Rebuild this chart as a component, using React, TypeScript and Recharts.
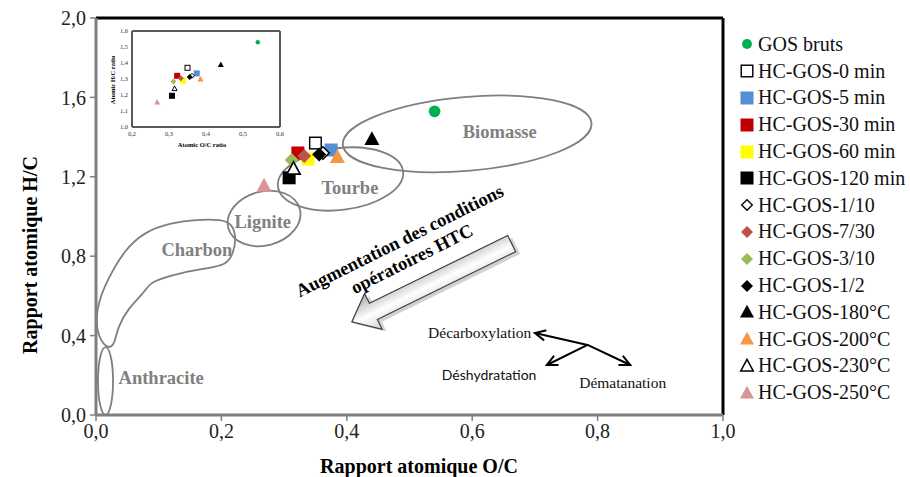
import React from 'react';
import {
  ScatterChart,
  Scatter,
  XAxis,
  YAxis,
  ReferenceArea,
  ReferenceLine,
  ReferenceDot,
} from 'recharts';

const SERIF = '"Liberation Serif", "Times New Roman", serif';

// --- samples (O/C, H/C) ---
const seriesNames = [
  'GOS bruts',
  'HC-GOS-0 min',
  'HC-GOS-5 min',
  'HC-GOS-30 min',
  'HC-GOS-60 min',
  'HC-GOS-120 min',
  'HC-GOS-1/10',
  'HC-GOS-7/30',
  'HC-GOS-3/10',
  'HC-GOS-1/2',
  'HC-GOS-180°C',
  'HC-GOS-200°C',
  'HC-GOS-230°C',
  'HC-GOS-250°C',
];
const ocRatio = [0.54, 0.35, 0.375, 0.322, 0.338, 0.308, 0.362, 0.332, 0.312, 0.356, 0.44, 0.385, 0.315, 0.268];
const hcRatio = [1.53, 1.37, 1.335, 1.32, 1.29, 1.195, 1.32, 1.305, 1.285, 1.312, 1.39, 1.3, 1.24, 1.155];
const markerKinds = [
  'circle', 'squareOpen', 'square', 'square', 'square', 'square',
  'diamondOpen', 'diamond', 'diamond', 'diamond',
  'triangle', 'triangle', 'triangleOpen', 'triangle',
];
const markerColors = [
  '#00b050', '#000000', '#558ed5', '#c00000', '#ffff00', '#000000',
  '#000000', '#c0504d', '#9bbb59', '#000000',
  '#000000', '#f79646', '#000000', '#d99694',
];

const xTicks = [0, 0.2, 0.4, 0.6, 0.8, 1.0];
const yTicks = [0, 0.4, 0.8, 1.2, 1.6, 2.0];
const insetXTicks = [0.2, 0.3, 0.4, 0.5, 0.6];
const insetYTicks = [1.0, 1.1, 1.2, 1.3, 1.4, 1.5, 1.6];

// --- van Krevelen zones (data space) ---
const zoneCenterOC = [0.592, 0.39, 0.268, 0.0152];
const zoneCenterHC = [1.416, 1.189, 0.99, 0.171];
const zoneHalfOC = [0.199, 0.1005, 0.059, 0.012];
const zoneHalfHC = [0.186, 0.156, 0.136, 0.171];
const zoneTilt = [-5, -7, -15, 0];

// outline of the coal (Charbon) band
const charbonOC = [0.018, 0.003, 0.0, 0.004, 0.018, 0.045, 0.078, 0.12, 0.16, 0.2, 0.216, 0.224, 0.219, 0.207, 0.178, 0.134, 0.106, 0.086, 0.074, 0.052, 0.034, 0.03];
const charbonHC = [0.33, 0.4, 0.48, 0.57, 0.68, 0.83, 0.925, 0.968, 0.985, 0.985, 0.965, 0.9, 0.81, 0.755, 0.74, 0.715, 0.69, 0.665, 0.607, 0.54, 0.44, 0.355];

const zoneLabels = ['Biomasse', 'Tourbe', 'Lignite', 'Charbon', 'Anthracite'];
const zoneLabelOC = [0.644, 0.405, 0.266, 0.161, 0.104];
const zoneLabelHC = [1.426, 1.144, 0.972, 0.831, 0.186];

// --- reaction pathways ---
const hubOC = 0.784;
const hubHC = 0.353;
const reactionLabels = ['Décarboxylation', 'Déshydratation', 'Dématanation'];
const reactionEndOC = [0.7, 0.719, 0.852];
const reactionEndHC = [0.413, 0.252, 0.252];
const reactionLabelOC = [0.612, 0.627, 0.84];
const reactionLabelHC = [0.418, 0.202, 0.166];

const trendTip = { x: 0.408, y: 0.469 };
const trendTextAt = { x: 0.494, y: 0.831 };
const trendLines = ['Augmentation des conditions', 'opératoires HTC'];

const fmt = (v: number) => v.toFixed(1).replace('.', ',');

const points = seriesNames.map((name, i) => ({
  name,
  kind: markerKinds[i],
  color: markerColors[i],
  data: [{ x: ocRatio[i], y: hcRatio[i] }],
}));

function Marker({ cx, cy, kind, color, size }: any) {
  const open = kind.endsWith('Open');
  const sw = open ? Math.max(1, size / 9) : 0;
  const h = size / 2 - sw / 2;
  const fill = open ? '#ffffff' : color;
  const stroke = open ? '#000000' : 'none';
  if (kind === 'circle') return <circle cx={cx} cy={cy} r={size * 0.45} fill={fill} />;
  if (kind.startsWith('square'))
    return <rect x={cx - h} y={cy - h} width={h * 2} height={h * 2} fill={fill} stroke={stroke} strokeWidth={sw} />;
  if (kind.startsWith('diamond'))
    return (
      <polygon
        points={`${cx},${cy - h} ${cx + h},${cy} ${cx},${cy + h} ${cx - h},${cy}`}
        fill={fill}
        stroke={stroke}
        strokeWidth={sw}
      />
    );
  return (
    <polygon
      points={`${cx},${cy - h * 1.05} ${cx + h},${cy + h * 0.8} ${cx - h},${cy + h * 0.8}`}
      fill={fill}
      stroke={stroke}
      strokeWidth={sw}
      strokeLinejoin="miter"
    />
  );
}

const mainSize: Record<string, number> = { circle: 13, square: 13, diamond: 14, triangle: 15 };
const sizeOf = (kind: string, table: Record<string, number>) => table[kind.replace('Open', '')];
const insetSize: Record<string, number> = { circle: 5, square: 6, diamond: 6, triangle: 6 };
const legendSize: Record<string, number> = { circle: 11, square: 13, diamond: 12, triangle: 14 };

function ZoneEllipse(props: any, tilt: number) {
  const { x, y, width, height } = props;
  const cx = x + width / 2;
  const cy = y + height / 2;
  return (
    <ellipse
      cx={cx}
      cy={cy}
      rx={width / 2}
      ry={height / 2}
      transform={`rotate(${tilt} ${cx} ${cy})`}
      fill="none"
      stroke="#7f7f7f"
      strokeWidth={1.8}
    />
  );
}

function ArrowWithHead(props: any) {
  const { x1, y1, x2, y2 } = props;
  const ang = Math.atan2(y2 - y1, x2 - x1);
  const L = 11;
  const spread = 0.45;
  const a1 = ang + Math.PI - spread;
  const a2 = ang + Math.PI + spread;
  return (
    <g stroke="#000" strokeWidth={2} fill="none" strokeLinecap="round">
      <line x1={x1} y1={y1} x2={x2} y2={y2} />
      <polyline
        points={`${x2 + L * Math.cos(a1)},${y2 + L * Math.sin(a1)} ${x2},${y2} ${x2 + L * Math.cos(a2)},${y2 + L * Math.sin(a2)}`}
      />
    </g>
  );
}

function TrendArrow(props: any) {
  const { cx, cy } = props;
  const len = 178;
  const hl = 24;
  const hw = 20;
  const bw = 9;
  const pts = `0,0 ${-hl},${-hw} ${-hl},${-bw} ${-len},${-bw} ${-len},${bw} ${-hl},${bw} ${-hl},${hw}`;
  return (
    <g transform={`translate(${cx} ${cy}) rotate(153.9)`}>
      <defs>
        <linearGradient id="trendGrad" x1="0" y1="0" x2="0" y2="1">
          <stop offset="0%" stopColor="#d0d0d0" />
          <stop offset="45%" stopColor="#ffffff" />
          <stop offset="100%" stopColor="#a8a8a8" />
        </linearGradient>
      </defs>
      <polygon points={pts} fill="#000" opacity={0.18} transform="translate(-3 -4)" />
      <polygon points={pts} fill="url(#trendGrad)" stroke="#3f3f3f" strokeWidth={1.2} />
    </g>
  );
}

function TrendText(props: any) {
  const { cx, cy } = props;
  return (
    <g transform={`translate(${cx} ${cy}) rotate(-26.5)`}>
      <text x={-1.4} y={-10.8} textAnchor="middle" dominantBaseline="central" fontFamily={SERIF} fontWeight="bold" fontSize={18.5} fill="#000">
        {trendLines[0]}
      </text>
      <text x={1.4} y={10.8} textAnchor="middle" dominantBaseline="central" fontFamily={SERIF} fontWeight="bold" fontSize={18.5} fill="#000">
        {trendLines[1]}
      </text>
    </g>
  );
}

function LegendIcon({ kind, color }: any) {
  return (
    <svg width={18} height={18} style={{ display: 'block' }}>
      <Marker cx={9} cy={9} kind={kind} color={color} size={sizeOf(kind, legendSize)} />
    </svg>
  );
}

export default function App() {
  const charbonData = charbonOC.map((x, i) => ({ x, y: charbonHC[i] }));
  return (
    <div style={{ position: 'absolute', left: 0, top: 0, width: 910, height: 477, background: '#fff', fontFamily: SERIF }}>
      <ScatterChart width={910} height={477} margin={{ top: 18, right: 187, bottom: 32, left: 46 }}>
        <XAxis
          type="number"
          dataKey="x"
          domain={[0, 1]}
          ticks={xTicks}
          tickFormatter={fmt}
          height={30}
          tickSize={6}
          tickMargin={3}
          axisLine={{ stroke: '#7f7f7f', strokeWidth: 3 }}
          tickLine={{ stroke: '#7f7f7f', strokeWidth: 1.5 }}
          tick={{ fontSize: 20, fill: '#222', fontFamily: SERIF }}
        />
        <YAxis
          type="number"
          dataKey="y"
          domain={[0, 2]}
          ticks={yTicks}
          tickFormatter={fmt}
          width={50}
          tickSize={6}
          tickMargin={4}
          axisLine={{ stroke: '#7f7f7f', strokeWidth: 3 }}
          tickLine={{ stroke: '#7f7f7f', strokeWidth: 1.5 }}
          tick={{ fontSize: 20, fill: '#222', fontFamily: SERIF }}
        />
        <ReferenceLine y={2} stroke="#000" strokeWidth={3} />
        <ReferenceLine x={1} stroke="#000" strokeWidth={3} />

        {zoneCenterOC.map((c, i) => (
          <ReferenceArea
            key={`zone-${i}`}
            x1={c - zoneHalfOC[i]}
            x2={c + zoneHalfOC[i]}
            y1={zoneCenterHC[i] - zoneHalfHC[i]}
            y2={zoneCenterHC[i] + zoneHalfHC[i]}
            ifOverflow="visible"
            shape={(p: any) => ZoneEllipse(p, zoneTilt[i])}
          />
        ))}
        <Scatter
          name="Charbon"
          data={charbonData}
          line={{ stroke: '#7f7f7f', strokeWidth: 1.8 }}
          lineJointType="basisClosed"
          shape={() => <g />}
          isAnimationActive={false}
        />

        {zoneLabels.map((label, i) => (
          <ReferenceDot
            key={`zl-${i}`}
            x={zoneLabelOC[i]}
            y={zoneLabelHC[i]}
            shape={(p: any) => (
              <text x={p.cx} y={p.cy} textAnchor="middle" dominantBaseline="central" fontFamily={SERIF} fontWeight="bold" fontSize={18.5} fill="#808080">
                {label}
              </text>
            )}
          />
        ))}

        {points.map((s) => (
          <Scatter
            key={s.name}
            name={s.name}
            data={s.data}
            isAnimationActive={false}
            shape={(p: any) => <Marker cx={p.cx} cy={p.cy} kind={s.kind} color={s.color} size={sizeOf(s.kind, mainSize)} />}
          />
        ))}

        <ReferenceDot x={trendTip.x} y={trendTip.y} shape={TrendArrow} />
        <ReferenceDot x={trendTextAt.x} y={trendTextAt.y} shape={TrendText} />

        {reactionEndOC.map((x, i) => (
          <ReferenceLine
            key={`rx-${i}`}
            segment={[
              { x: hubOC, y: hubHC },
              { x, y: reactionEndHC[i] },
            ]}
            stroke="#000"
            strokeWidth={2}
            shape={ArrowWithHead}
          />
        ))}
        {reactionLabels.map((label, i) => (
          <ReferenceDot
            key={`rl-${i}`}
            x={reactionLabelOC[i]}
            y={reactionLabelHC[i]}
            shape={(p: any) => (
              <text
                x={p.cx}
                y={p.cy}
                textAnchor="middle"
                dominantBaseline="central"
                fontFamily={i === 1 ? 'Lato, "Open Sans", sans-serif' : SERIF}
                fontSize={i === 1 ? 14 : 15.5}
                fill="#111"
              >
                {label}
              </text>
            )}
          />
        ))}
      </ScatterChart>

      {/* inset with the zoomed cluster */}
      <div style={{ position: 'absolute', left: 100, top: 18 }}>
        <ScatterChart width={190} height={140} margin={{ top: 13, right: 10, bottom: 15, left: 10 }}>
          <XAxis
            type="number"
            dataKey="x"
            domain={[0.2, 0.6]}
            ticks={insetXTicks}
            tickFormatter={fmt}
            height={16}
            tickSize={0}
            tickMargin={4}
            axisLine={{ stroke: '#595959', strokeWidth: 2 }}
            tick={{ fontSize: 6.5, fill: '#333', fontFamily: SERIF }}
          />
          <YAxis
            type="number"
            dataKey="y"
            domain={[1.0, 1.6]}
            ticks={insetYTicks}
            tickFormatter={fmt}
            width={22}
            tickSize={0}
            tickMargin={4}
            axisLine={{ stroke: '#595959', strokeWidth: 2 }}
            tick={{ fontSize: 6.5, fill: '#333', fontFamily: SERIF }}
          />
          <ReferenceLine y={1.6} stroke="#595959" strokeWidth={2} />
          <ReferenceLine x={0.6} stroke="#595959" strokeWidth={2} />
          {points.map((s) => (
            <Scatter
              key={`in-${s.name}`}
              name={s.name}
              data={s.data}
              isAnimationActive={false}
              shape={(p: any) => <Marker cx={p.cx} cy={p.cy} kind={s.kind} color={s.color} size={sizeOf(s.kind, insetSize)} />}
            />
          ))}
        </ScatterChart>
        <div style={{ position: 'absolute', left: 62, top: 123, width: 80, textAlign: 'center', fontSize: 6.5, fontWeight: 'bold', lineHeight: '8px', fontFamily: SERIF }}>
          Atomic O/C ratio
        </div>
        <div
          style={{
            position: 'absolute',
            left: 13 - 40,
            top: 62 - 4,
            width: 80,
            height: 8,
            textAlign: 'center',
            fontSize: 6.5,
            fontWeight: 'bold',
            lineHeight: '8px',
            fontFamily: SERIF,
            transform: 'rotate(-90deg)',
          }}
        >
          Atomic H/C ratio
        </div>
      </div>

      {/* axis titles */}
      <div style={{ position: 'absolute', left: 299, top: 454, width: 240, textAlign: 'center', fontSize: 20, fontWeight: 'bold', lineHeight: '24px', fontFamily: SERIF }}>
        Rapport atomique O/C
      </div>
      <div
        style={{
          position: 'absolute',
          left: 30 - 120,
          top: 255 - 12,
          width: 240,
          height: 24,
          textAlign: 'center',
          fontSize: 20,
          fontWeight: 'bold',
          lineHeight: '24px',
          fontFamily: SERIF,
          transform: 'rotate(-90deg)',
        }}
      >
        Rapport atomique H/C
      </div>

      {/* legend */}
      <div style={{ position: 'absolute', left: 738, top: 31, fontFamily: SERIF }}>
        {points.map((s) => (
          <div key={`lg-${s.name}`} style={{ display: 'flex', alignItems: 'center', height: 26.8 }}>
            <LegendIcon kind={s.kind} color={s.color} />
            <span style={{ marginLeft: 2, fontSize: 20, color: '#111', whiteSpace: 'nowrap', fontFamily: SERIF }}>{s.name}</span>
          </div>
        ))}
      </div>
    </div>
  );
}
